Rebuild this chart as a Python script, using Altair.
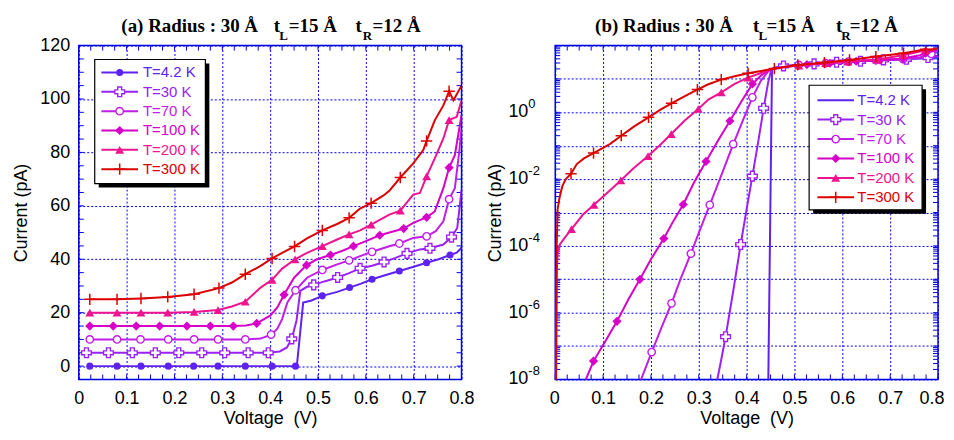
import altair as alt
import pandas as pd

# ---------------- data ----------------
SERIES = ["T=4.2 K", "T=30 K", "T=70 K", "T=100 K", "T=200 K", "T=300 K"]
COLORS = ["#5E22F0", "#9A22F8", "#C21EE8", "#D600C8", "#EE1490", "#DD0000"]

# (a) linear panel: currents as plotted (each curve shifted by 5 pA)
A_V_4K = [0.023, 0.080, 0.130, 0.187, 0.240, 0.291, 0.348, 0.404, 0.453, 0.456, 0.469, 0.485, 0.509, 0.540, 0.566, 0.590, 0.613, 0.640, 0.670, 0.700, 0.727, 0.752, 0.776, 0.790, 0.800]
A_I_4K = [0, 0, 0, 0, 0, 0, 0, 0, 0, 0.5, 23.8, 24.5, 26.3, 27.8, 29.4, 30.9, 32.5, 34.0, 35.6, 37.2, 38.7, 40.0, 41.6, 42.5, 44.3]
A_M_4K = [0.023, 0.080, 0.130, 0.187, 0.240, 0.291, 0.348, 0.404, 0.453, 0.509, 0.566, 0.613, 0.670, 0.727, 0.776]

A_V_30 = [0.016, 0.062, 0.112, 0.160, 0.209, 0.257, 0.305, 0.354, 0.396, 0.420, 0.435, 0.445, 0.455, 0.463, 0.477, 0.491, 0.515, 0.541, 0.565, 0.588, 0.613, 0.638, 0.662, 0.686, 0.713, 0.734, 0.762, 0.779, 0.791, 0.800]
A_I_30 = [5, 5, 5, 5, 5, 5, 5, 5, 5, 5.5, 7, 10.2, 17, 28.2, 29.7, 30.4, 31.8, 33.2, 34.8, 36.6, 37.6, 39.0, 40.5, 42.2, 43.7, 44.1, 45.5, 48.3, 51.7, 66]
A_M_30 = [0.016, 0.062, 0.112, 0.160, 0.209, 0.257, 0.305, 0.354, 0.396, 0.445, 0.491, 0.541, 0.588, 0.638, 0.686, 0.734, 0.779]

A_V_70 = [0.023, 0.080, 0.129, 0.187, 0.241, 0.291, 0.348, 0.380, 0.402, 0.415, 0.425, 0.436, 0.453, 0.477, 0.509, 0.540, 0.565, 0.588, 0.613, 0.649, 0.670, 0.699, 0.727, 0.746, 0.762, 0.774, 0.786, 0.795, 0.800]
A_I_70 = [10, 10, 10, 10, 10, 10, 10, 10.3, 11.8, 14, 17.6, 23.8, 28.4, 33.1, 36.0, 38.1, 39.6, 41.2, 42.8, 44.9, 45.9, 48.0, 48.6, 50.5, 54.2, 62.5, 66.6, 80, 89]
A_M_70 = [0.023, 0.080, 0.129, 0.187, 0.241, 0.291, 0.348, 0.402, 0.453, 0.509, 0.565, 0.613, 0.670, 0.727, 0.774]

A_V_100 = [0.023, 0.072, 0.120, 0.169, 0.226, 0.275, 0.323, 0.350, 0.372, 0.400, 0.415, 0.429, 0.450, 0.476, 0.498, 0.526, 0.550, 0.574, 0.600, 0.629, 0.655, 0.679, 0.699, 0.727, 0.744, 0.762, 0.774, 0.786, 0.800]
A_I_100 = [15, 15, 15, 15, 15, 15, 15, 15.2, 16, 18.9, 22, 26.7, 33.1, 37.8, 40, 41.6, 43.1, 44.9, 46.8, 49, 50.3, 51.5, 53.6, 55.7, 57.9, 66.6, 74.3, 79, 94]
A_M_100 = [0.023, 0.072, 0.120, 0.169, 0.226, 0.275, 0.323, 0.372, 0.429, 0.476, 0.526, 0.574, 0.629, 0.679, 0.727, 0.774]

A_V_200 = [0.023, 0.080, 0.130, 0.186, 0.241, 0.291, 0.320, 0.348, 0.380, 0.404, 0.425, 0.452, 0.477, 0.509, 0.540, 0.565, 0.588, 0.611, 0.649, 0.672, 0.699, 0.713, 0.727, 0.744, 0.762, 0.774, 0.790, 0.800]
A_I_200 = [20, 20, 20, 20, 20.3, 21, 22.3, 24.1, 29.4, 32.3, 36.5, 40, 42.4, 44.9, 47.4, 49.3, 50.8, 53, 56.7, 58.2, 64.2, 64.8, 71, 77.8, 85.2, 92.1, 93.3, 99.5]
A_M_200 = [0.023, 0.080, 0.130, 0.186, 0.241, 0.291, 0.348, 0.404, 0.452, 0.509, 0.565, 0.611, 0.672, 0.727, 0.774]

A_V_300 = [0.023, 0.080, 0.130, 0.186, 0.241, 0.293, 0.320, 0.348, 0.380, 0.404, 0.425, 0.451, 0.477, 0.509, 0.540, 0.565, 0.588, 0.611, 0.637, 0.649, 0.672, 0.699, 0.720, 0.727, 0.744, 0.762, 0.774, 0.783, 0.800]
A_I_300 = [25, 25, 25.3, 25.9, 26.9, 29.2, 31.3, 34.4, 37.5, 40.3, 42.4, 44.8, 47.8, 50.8, 53.2, 55.5, 59.0, 61.0, 63.9, 65.6, 70.6, 75.9, 80.9, 84.3, 92.0, 97.6, 102.9, 99.5, 105.0]
A_M_300 = [0.023, 0.080, 0.130, 0.186, 0.241, 0.293, 0.348, 0.404, 0.451, 0.509, 0.565, 0.611, 0.672, 0.727, 0.774]

# (b) log panel: currents in pA
B_V_4K = [0.4445, 0.453, 0.460, 0.485, 0.509, 0.565, 0.613, 0.670, 0.727, 0.776, 0.800]
B_I_4K = [1e-9, 20.0, 21.9, 24.5, 26.3, 29.5, 32.4, 35.5, 38.9, 41.7, 44.7]
B_M_4K = []

B_V_30 = [0.338, 0.347, 0.356, 0.372, 0.3875, 0.400, 0.412, 0.424, 0.4355, 0.445, 0.452, 0.477, 0.491, 0.541, 0.588, 0.638, 0.686, 0.734, 0.779, 0.800]
B_I_30 = [8.91e-9, 3.98e-8, 1.91e-7, 4.47e-6, 1.10e-4, 1.26e-3, 1.23e-2, 0.126, 1.32, 7.94, 20.0, 24.5, 25.1, 28.2, 31.6, 33.9, 37.2, 38.9, 43.7, 47.9]
B_M_30 = [0.356, 0.3875, 0.412, 0.4355, 0.477, 0.541, 0.588, 0.638, 0.686, 0.734, 0.779]

B_V_70 = [0.178, 0.2015, 0.222, 0.243, 0.263, 0.2835, 0.303, 0.323, 0.348, 0.372, 0.392, 0.412, 0.430, 0.448, 0.477, 0.509, 0.565, 0.613, 0.670, 0.727, 0.762, 0.786, 0.800]
B_I_70 = [8.91e-9, 6.61e-8, 3.55e-7, 1.91e-6, 1.12e-5, 5.89e-5, 3.16e-4, 1.70e-3, 1.41e-2, 0.112, 0.562, 2.82, 8.91, 19.1, 22.9, 26.3, 29.5, 33.1, 36.3, 38.9, 43.7, 56.2, 70.8]
B_M_70 = [0.2015, 0.243, 0.2835, 0.323, 0.372, 0.412, 0.509, 0.565, 0.613, 0.670, 0.727, 0.786]

B_V_100 = [0.058, 0.080, 0.105, 0.129, 0.153, 0.177, 0.200, 0.227, 0.247, 0.2675, 0.290, 0.315, 0.340, 0.365, 0.390, 0.412, 0.430, 0.450, 0.476, 0.526, 0.574, 0.629, 0.679, 0.727, 0.762, 0.774, 0.800]
B_I_100 = [6.31e-9, 3.55e-8, 1.41e-7, 5.50e-7, 2.51e-6, 1.0e-5, 3.98e-5, 1.66e-4, 5.62e-4, 1.74e-3, 7.94e-3, 3.39e-2, 0.141, 0.550, 2.24, 7.08, 12.6, 19.5, 22.9, 26.9, 29.5, 33.9, 36.3, 40.7, 51.3, 58.9, 75.9]
B_M_100 = [0.080, 0.129, 0.177, 0.227, 0.2675, 0.315, 0.365, 0.412, 0.526, 0.574, 0.629, 0.679, 0.727, 0.774]

B_V_200 = [0.0015, 0.003, 0.005, 0.010, 0.020, 0.034, 0.058, 0.081, 0.110, 0.137, 0.1625, 0.194, 0.218, 0.2425, 0.270, 0.299, 0.320, 0.347, 0.375, 0.403, 0.430, 0.458, 0.480, 0.509, 0.565, 0.611, 0.672, 0.727, 0.774, 0.800]
B_I_200 = [1e-9, 1.58e-5, 6.31e-5, 1.12e-4, 1.78e-4, 3.16e-4, 8.71e-4, 1.70e-3, 4.07e-3, 9.12e-3, 2.04e-2, 4.90e-2, 0.102, 0.224, 0.562, 1.26, 2.40, 3.98, 7.08, 11.0, 15.1, 20.4, 22.9, 25.1, 29.5, 33.1, 38.0, 51.3, 72.4, 79.4]
B_M_200 = [0.034, 0.081, 0.137, 0.194, 0.2425, 0.299, 0.347, 0.403, 0.509, 0.565, 0.611, 0.672, 0.727, 0.774]

B_V_300 = [0.0012, 0.003, 0.005, 0.009, 0.015, 0.022, 0.033, 0.045, 0.060, 0.080, 0.114, 0.138, 0.165, 0.195, 0.220, 0.243, 0.270, 0.297, 0.320, 0.347, 0.375, 0.403, 0.430, 0.458, 0.480, 0.507, 0.5625, 0.615, 0.670, 0.728, 0.774, 0.783, 0.800]
B_I_300 = [1e-9, 1.0e-4, 1.26e-3, 2.82e-3, 6.31e-3, 1.0e-2, 1.45e-2, 2.82e-2, 4.17e-2, 6.03e-2, 0.112, 0.200, 0.380, 0.708, 1.20, 1.86, 3.02, 4.79, 6.92, 9.55, 12.0, 14.8, 17.4, 20.4, 22.9, 26.3, 30.9, 37.2, 46.8, 58.9, 77.6, 74.1, 83.2]
B_M_300 = [0.033, 0.080, 0.138, 0.195, 0.243, 0.297, 0.347, 0.403, 0.458, 0.507, 0.5625, 0.615, 0.670, 0.728, 0.774]

X_LABELS = [0, 0.1, 0.2, 0.3, 0.4, 0.5, 0.6, 0.7, 0.8]
X_TICKS = [round(0.025 * k, 3) for k in range(33)]
YA_LABELS = [0, 20, 40, 60, 80, 100, 120]
YA_TICKS = [5 * k for k in range(-1, 25)]
YB_DECADES = [1e-8, 1e-7, 1e-6, 1e-5, 1e-4, 1e-3, 1e-2, 1e-1, 1e0, 1e1, 1e2]
YB_LABELS = [1e-8, 1e-6, 1e-4, 1e-2, 1e0]
YB_SUPS = ["-8", "-6", "-4", "-2", "0"]
YB_TICKS = [k * 10.0 ** n for n in range(-8, 2) for k in range(1, 10)] + [100.0]

A_SETS = [(A_V_4K, A_I_4K, A_M_4K), (A_V_30, A_I_30, A_M_30), (A_V_70, A_I_70, A_M_70),
          (A_V_100, A_I_100, A_M_100), (A_V_200, A_I_200, A_M_200), (A_V_300, A_I_300, A_M_300)]
B_SETS = [(B_V_4K, B_I_4K, B_M_4K), (B_V_30, B_I_30, B_M_30), (B_V_70, B_I_70, B_M_70),
          (B_V_100, B_I_100, B_M_100), (B_V_200, B_I_200, B_M_200), (B_V_300, B_I_300, B_M_300)]

# ---------------- style ----------------
W, H = 384, 335
FRAME = "#0000DD"
GRIDC = "#0000FF"
SANS = "Liberation Sans"
SERIF = "Liberation Serif"
TL = 5
TOP_SPACE = 35.3      # from page top (after margin) to the plot frame
BOTTOM_SPACE = 48.0   # below the plot frame
LEFT_SPACE = 69.3
RIGHT_SPACE = 6.5


def one():
    return pd.DataFrame({"k": [0]})


def build_df(v, i, mk):
    ms = {round(m, 4) for m in mk}
    return pd.DataFrame({"V": v, "I": i, "M": [round(x, 4) in ms for x in v]})


def pt_kwargs(i, c):
    if i == 0:
        return dict(shape="circle", size=50, filled=True, color=c, opacity=1)
    if i == 1:
        return dict(shape="cross", size=95, filled=True, fill="white", stroke=c, strokeWidth=1.4, opacity=1)
    if i == 2:
        return dict(shape="circle", size=55, filled=True, fill="white", stroke=c, strokeWidth=1.4, opacity=1)
    if i == 3:
        return dict(shape="diamond", size=85, filled=True, color=c, opacity=1)
    if i == 4:
        return dict(shape="triangle-up", size=80, filled=True, color=c, opacity=1)
    return dict(shape="M-1,0L1,0M0,-1L0,1", size=130, filled=False, color=c, strokeWidth=1.5, opacity=1)


def x_enc(flush=False):
    extra = dict(labelFlush=True, labelFlushOffset=6) if flush else dict(labelFlush=False)
    return alt.X("V:Q", scale=alt.Scale(domain=[0, 0.8], nice=False, zero=False),
                 axis=alt.Axis(values=X_LABELS, format="~g", grid=True, gridColor=GRIDC, gridDash=[2, 2],
                               gridWidth=1, ticks=False, tickSize=0, domain=False, labelFontSize=18, labelFont=SANS,
                               labelColor="black", labelPadding=10, labelOverlap=False,
                               title="Voltage \u00a0(V)", titleFont=SANS, titleFontSize=18,
                               titleFontWeight="normal", titleColor="black", titlePadding=2, **extra))


def y_enc_a():
    return alt.Y("I:Q", scale=alt.Scale(domain=[-5, 120], nice=False, zero=False),
                 axis=alt.Axis(values=YA_LABELS, grid=True, gridColor=GRIDC, gridDash=[2, 2], gridWidth=1,
                               ticks=False, tickSize=0, domain=False, labelFontSize=18, labelFont=SANS,
                               labelColor="black", labelPadding=9, labelFlush=False, labelOverlap=False,
                               title="Current (pA)", titleFont=SANS, titleFontSize=18,
                               titleFontWeight="normal", titleColor="black", titlePadding=9))


def y_enc_b():
    return alt.Y("I:Q", scale=alt.Scale(type="log", domain=[1e-8, 100], nice=False),
                 axis=alt.Axis(values=YB_DECADES, grid=True, gridColor=GRIDC, gridDash=[2, 2], gridWidth=1,
                               ticks=False, tickSize=0, domain=False, labels=False,
                               title="Current (pA)", titleFont=SANS, titleFontSize=18,
                               titleFontWeight="normal", titleColor="black", titlePadding=51))


def tick_layers(xenc, yenc, yvals):
    dx = pd.DataFrame({"V": X_TICKS})
    dy = pd.DataFrame({"I": yvals})
    return [
        alt.Chart(dx).mark_rule(color=FRAME, strokeWidth=1).encode(x=xenc, y=alt.value(H), y2=alt.value(H - TL)),
        alt.Chart(dx).mark_rule(color=FRAME, strokeWidth=1).encode(x=xenc, y=alt.value(0), y2=alt.value(TL)),
        alt.Chart(dy).mark_rule(color=FRAME, strokeWidth=1).encode(y=yenc, x=alt.value(0), x2=alt.value(TL)),
        alt.Chart(dy).mark_rule(color=FRAME, strokeWidth=1).encode(y=yenc, x=alt.value(W), x2=alt.value(W - TL)),
    ]


def series_layers(sets, xenc, yenc):
    out = []
    for i, ((v, cur, mk), c) in enumerate(zip(sets, COLORS)):
        d = build_df(v, cur, mk)
        out.append(alt.Chart(d).mark_line(color=c, strokeWidth=2, clip=True).encode(x=xenc, y=yenc))
        dm = d[d["M"]]
        if len(dm):
            out.append(alt.Chart(dm).mark_point(clip=True, **pt_kwargs(i, c)).encode(x=xenc, y=yenc))
    return out


def legend_layers(box, row0, step, lx0, lx1, tx, marker_42):
    x0, y0, x1, y1 = box
    out = [
        alt.Chart(one()).mark_rect(fill="black").encode(
            x=alt.value(x0 + 4), x2=alt.value(x1 + 4), y=alt.value(y0 + 4), y2=alt.value(y1 + 4)),
        alt.Chart(one()).mark_rect(fill="white", stroke="black", strokeWidth=1.2).encode(
            x=alt.value(x0), x2=alt.value(x1), y=alt.value(y0), y2=alt.value(y1)),
    ]
    for i, (lab, c) in enumerate(zip(SERIES, COLORS)):
        ry = row0 + i * step
        out.append(alt.Chart(one()).mark_rule(color=c, strokeWidth=2).encode(
            x=alt.value(lx0), x2=alt.value(lx1), y=alt.value(ry)))
        if i > 0 or marker_42:
            out.append(alt.Chart(one()).mark_point(**pt_kwargs(i, c)).encode(
                x=alt.value((lx0 + lx1) / 2), y=alt.value(ry)))
        out.append(alt.Chart(one()).mark_text(font=SANS, fontSize=15, align="left", baseline="middle",
                                              color=c).encode(x=alt.value(tx), y=alt.value(ry), text=alt.value(lab)))
    return out


def title_layers(letter, xs, ybase, ysub):
    pieces = [(f"({letter}) Radius : 30 Å", 19), ("t", 19), ("L", 13), ("=15 Å", 19),
              ("t", 19), ("R", 13), ("=12 Å", 19)]
    out = []
    for (txt, fs), x in zip(pieces, xs):
        y = ysub if fs == 13 else ybase
        out.append(alt.Chart(one()).mark_text(font=SERIF, fontWeight="bold", fontSize=fs, align="left",
                                              baseline="alphabetic", color="black").encode(
            x=alt.value(x), y=alt.value(y), text=alt.value(txt)))
    return out


def extent_layer(x0, x1):
    # invisible box that fixes the page area taken by the panel
    return alt.Chart(one()).mark_rect(opacity=0).encode(
        x=alt.value(x0), x2=alt.value(x1), y=alt.value(-TOP_SPACE), y2=alt.value(H + BOTTOM_SPACE))


# ---------------- panel (a) ----------------
xa = x_enc(False)
ya = y_enc_a()
layers_a = [extent_layer(-LEFT_SPACE, W)]
layers_a += tick_layers(xa, ya, YA_TICKS)
layers_a += series_layers(A_SETS, xa, ya)
layers_a += legend_layers((16, 14, 127, 138.5), 27, 19.4, 22.7, 59.4, 64.4, True)
layers_a += title_layers("a", [42.7, 195.7, 201.0, 210.7, 277.7, 285.0, 294.7], -14, -6)
left = alt.layer(*layers_a).properties(width=W, height=H)

# ---------------- panel (b) ----------------
xb = x_enc(True)
yb = y_enc_b()
layers_b = [extent_layer(0, W + RIGHT_SPACE)]
layers_b += tick_layers(xb, yb, YB_TICKS)
layers_b += series_layers(B_SETS, xb, yb)
lab_df = pd.DataFrame({"I": YB_LABELS, "sup": YB_SUPS})
layers_b.append(alt.Chart(lab_df).mark_text(font=SANS, fontSize=18, align="right", baseline="middle",
                                            color="black").encode(y=yb, x=alt.value(-27), text=alt.value("10")))
layers_b.append(alt.Chart(lab_df).mark_text(font=SANS, fontSize=13, align="left", baseline="middle",
                                            dy=-8, color="black").encode(y=yb, x=alt.value(-27), text="sup:N"))
layers_b += legend_layers((254.7, 39.8, 368, 164.8), 54.8, 19.5, 263, 299.7, 303, False)
layers_b += title_layers("b", [40.0, 198.4, 204.0, 212.0, 281.7, 287.0, 295.5], -14, -6)
right = alt.layer(*layers_b).properties(width=W, height=H)

chart = alt.hconcat(left, right, spacing=94, bounds="flush").properties(
    padding={"left": 0, "right": 0, "top": 0, "bottom": 0},
).configure_view(stroke=FRAME, strokeWidth=1.5)

chart.save("out.html", embed_options={"renderer": "svg", "actions": False})
